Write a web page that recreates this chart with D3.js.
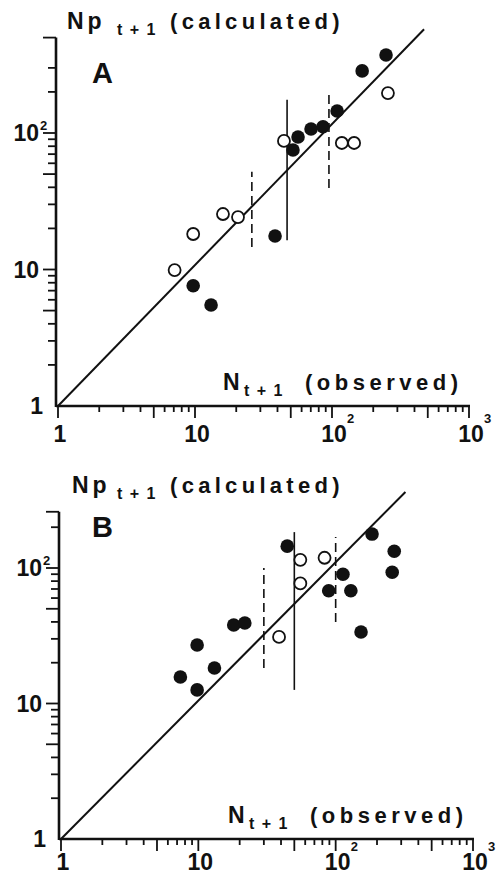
<!DOCTYPE html>
<html>
<head>
<meta charset="utf-8">
<script src="https://cdn.jsdelivr.net/npm/d3@7"></script>
<style>
  body { margin: 0; background: #fff; }
  svg { display: block; }
  text { font-family: "Liberation Sans", Arial, Helvetica, sans-serif; font-weight: bold; fill: #111; }
</style>
</head>
<body>
<svg id="chart" width="498" height="876"></svg>
<script>
// panel A data (observed, calculated)
const filledA = [[9.7, 7.6], [13.1, 5.5], [38.4, 17.6], [51.9, 75], [56.5, 93.5], [70.3, 107],
  [86, 111], [109, 145], [166, 285], [248, 373]];
const openA = [[7.1, 9.9], [9.7, 18.2], [16, 25.5], [20.6, 24.2], [44.6, 87.5], [118, 84.5],
  [145, 84.5], [256, 196]];
const dashedA = [[26, 14.6, 52], [95, 39.5, 206]];   // x, y from, y to
const cutA = [[47, 16.4, 175]];
const diagA = [[1, 1], [470, 575]];

// panel B data
const filledB = [[44.4, 145], [184, 178], [267, 133], [258, 93], [113, 90], [89, 68], [129, 68],
  [153, 33.7], [18.1, 38], [21.8, 39.3], [9.8, 27], [13.1, 18.3], [7.4, 15.7], [9.8, 12.6]];
const openB = [[55.3, 115], [83, 119], [55.3, 77], [38.7, 31]];
const dashedB = [[30, 18.3, 100], [100, 40, 169]];
const cutB = [[50, 12.6, 184]];
const diagB = [[1, 1], [322, 364]];

const xTicks = [2, 3, 4, 5, 6, 7, 8, 9, 10, 20, 30, 40, 50, 60, 70, 80, 90, 100,
  200, 300, 400, 500, 600, 700, 800, 900, 1000];
const yTicksA = [2, 3, 4, 5, 6, 7, 8, 9, 10, 20, 30, 40, 50, 60, 70, 80, 90, 100, 200, 300, 500];
const yTicksB = [2, 3, 4, 5, 6, 7, 8, 9, 10, 20, 30, 40, 50, 60, 70, 80, 90, 100, 200, 260];
const xLabels = [[1, "1", ""], [10, "10", ""], [100, "10", "2"], [1000, "10", "3"]];
const yLabels = [[1, "1", ""], [10, "10", ""], [100, "10", "2"]];

const svg = d3.select("#chart");

function isMajor(v, top) {
  const m = v / Math.pow(10, Math.floor(Math.log10(v) + 1e-9));
  return Math.abs(m - 1) < 1e-6 || Math.abs(m - 5) < 1e-6 || v === top;
}

function drawPanel(p) {
  const x = d3.scaleLog().domain([1, 1000]).range(p.xRange);
  const y = d3.scaleLog().domain([1, p.yTop]).range(p.yRange);
  const g = svg.append("g");
  const ax = x(1) - 2, ay = y(1);

  // axes lines
  g.append("line").attr("x1", ax).attr("x2", ax).attr("y1", y(p.yTop)).attr("y2", ay + 1)
    .attr("stroke", "#111").attr("stroke-width", 2.6);
  g.append("line").attr("x1", ax).attr("x2", x(1000) + 1).attr("y1", ay).attr("y2", ay)
    .attr("stroke", "#111").attr("stroke-width", 2.6);

  // x ticks (pointing down)
  g.selectAll(".xt").data([1].concat(xTicks)).enter().append("line")
    .attr("x1", d => x(d)).attr("x2", d => x(d))
    .attr("y1", ay).attr("y2", d => ay + (isMajor(d, 1000) ? 12 : 6))
    .attr("stroke", "#111").attr("stroke-width", 1.8);

  // y ticks (pointing left)
  g.selectAll(".yt").data(p.yTicks).enter().append("line")
    .attr("y1", d => y(d)).attr("y2", d => y(d))
    .attr("x1", ax).attr("x2", d => ax - (isMajor(d, p.yTop) ? 13 : 8))
    .attr("stroke", "#111").attr("stroke-width", 1.8);

  // x tick labels
  xLabels.forEach(([v, base, sup]) => {
    g.append("text").attr("x", x(v) + 2).attr("y", ay + p.labDy)
      .attr("text-anchor", "middle").attr("font-size", 23).text(base);
    if (sup) g.append("text").attr("x", x(v) + 15).attr("y", ay + p.labDy - 19)
      .attr("font-size", 13).text(sup);
  });

  // y tick labels
  yLabels.forEach(([v, base, sup]) => {
    const off = sup ? 17 : (base === "1" ? 13 : 17);
    g.append("text").attr("x", ax - off).attr("y", y(v) + 8)
      .attr("text-anchor", "end").attr("font-size", 23).text(base);
    if (sup) g.append("text").attr("x", ax - 16).attr("y", y(v) - 3)
      .attr("font-size", 13).text(sup);
  });

  // titles
  const t = g.append("text").attr("font-size", 22);
  t.append("tspan").attr("x", p.titleX).attr("y", p.titleY).attr("font-size", 23)
    .attr("letter-spacing", 4).text("Np");
  t.append("tspan").attr("x", 117).attr("y", p.titleY + 6).attr("font-size", 16)
    .attr("letter-spacing", 1.5).text("t + 1");
  t.append("tspan").attr("x", 170).attr("y", p.titleY).attr("letter-spacing", 4.3).text("(calculated)");

  const o = g.append("text").attr("font-size", 22);
  o.append("tspan").attr("x", p.obsX).attr("y", p.obsY).attr("font-size", 23).text("N");
  o.append("tspan").attr("x", p.obsX + 21).attr("y", p.obsY + 6).attr("font-size", 16)
    .attr("letter-spacing", 1.5).text("t + 1");
  o.append("tspan").attr("x", p.obsX + 82).attr("y", p.obsY).attr("letter-spacing", 4.5).text("(observed)");

  g.append("text").attr("x", 92).attr("y", p.letterY).attr("font-size", 29).text(p.letter);

  // 1:1 line
  g.append("path").datum(p.diag)
    .attr("d", d3.line().x(d => x(d[0])).y(d => y(d[1])))
    .attr("fill", "none").attr("stroke", "#111").attr("stroke-width", 2);

  // period dividers
  g.selectAll(".dash").data(p.dashed).enter().append("line")
    .attr("x1", d => x(d[0])).attr("x2", d => x(d[0]))
    .attr("y1", d => y(d[1])).attr("y2", d => y(d[2]))
    .attr("stroke", "#111").attr("stroke-width", 1.6).attr("stroke-dasharray", "9,5");
  g.selectAll(".cut").data(p.cut).enter().append("line")
    .attr("x1", d => x(d[0])).attr("x2", d => x(d[0]))
    .attr("y1", d => y(d[1])).attr("y2", d => y(d[2]))
    .attr("stroke", "#111").attr("stroke-width", 1.6);

  // points
  g.selectAll(".op").data(p.open).enter().append("circle")
    .attr("cx", d => x(d[0])).attr("cy", d => y(d[1])).attr("r", 6)
    .attr("fill", "#fff").attr("stroke", "#111").attr("stroke-width", 1.8);
  g.selectAll(".fp").data(p.filled).enter().append("circle")
    .attr("cx", d => x(d[0])).attr("cy", d => y(d[1])).attr("r", 6.8)
    .attr("fill", "#111");
}

drawPanel({
  xRange: [58, 469], yTop: 500, yRange: [406, 406 - Math.log10(500) * 136.5], labDy: 36,
  yTicks: yTicksA, titleX: 67, titleY: 29, obsX: 223, obsY: 390, letter: "A", letterY: 83,
  diag: diagA, dashed: dashedA, cut: cutA, open: openA, filled: filledA
});
drawPanel({
  xRange: [61, 473], yTop: 260, yRange: [839, 839 - Math.log10(260) * 135.5], labDy: 31,
  yTicks: yTicksB, titleX: 72, titleY: 493, obsX: 228, obsY: 823, letter: "B", letterY: 537,
  diag: diagB, dashed: dashedB, cut: cutB, open: openB, filled: filledB
});
</script>
</body>
</html>
